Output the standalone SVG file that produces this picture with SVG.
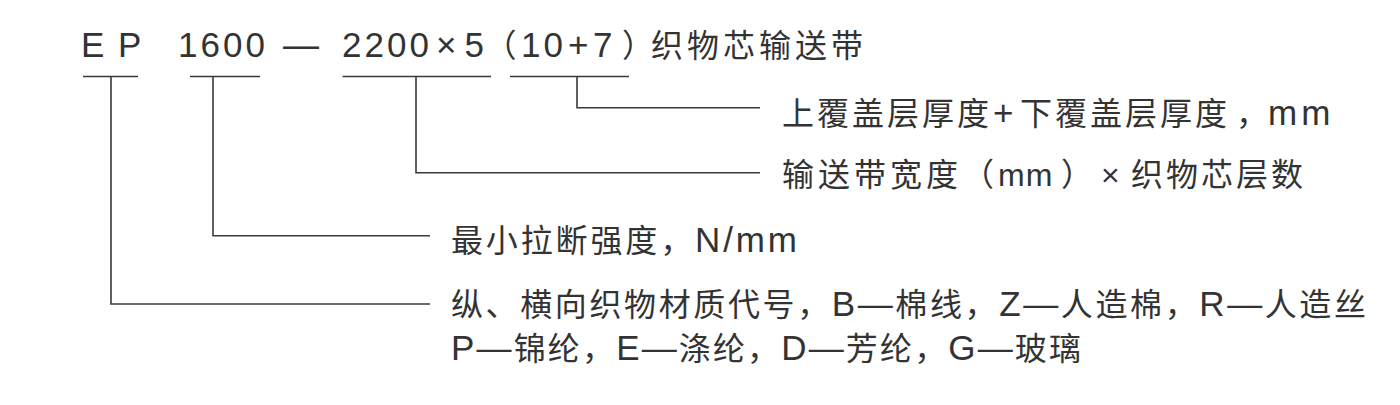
<svg xmlns="http://www.w3.org/2000/svg" width="1400" height="405" viewBox="0 0 1400 405">
<style>
text{font-family:"Liberation Sans","Noto Sans CJK SC",sans-serif;fill:#333;font-size:32px}
.lat{font-size:35px}
.cjk{font-family:"Noto Sans CJK SC",sans-serif;font-size:32px}
.ln{fill:none;stroke:#3a3a3a;stroke-width:1.6}
</style>
<rect width="1400" height="405" fill="#fff"/>
<g id="code">
<text class="lat" x="81" y="57">E</text>
<text class="lat" x="118" y="57">P</text>
<text class="lat" x="178" y="57" letter-spacing="3">1600</text>
<text class="lat" x="283" y="57" style="font-size:36px">—</text>
<text class="lat" x="342" y="57" letter-spacing="3">2200</text>
<text class="lat" x="436" y="57">×</text>
<text class="lat" x="464.5" y="57">5</text>
<text class="cjk" x="484.5" y="57">（</text>
<text class="lat" x="521" y="57" letter-spacing="3">10</text>
<text class="lat" x="568" y="57">+</text>
<text class="lat" x="593" y="57">7</text>
<text class="cjk" x="622" y="57">）<tspan x="651" letter-spacing="4">织物芯输送带</tspan></text>
</g>
<g id="label-cover">
<text x="782" y="125"><tspan letter-spacing="3">上覆盖层厚度</tspan><tspan class="lat" x="993">+</tspan><tspan x="1020" letter-spacing="3">下覆盖层厚度</tspan><tspan x="1236">，</tspan><tspan class="lat" x="1268" letter-spacing="4">mm</tspan></text>
</g>
<g id="label-width">
<text x="782" y="186"><tspan letter-spacing="4">输送带宽度</tspan><tspan x="962">（</tspan><tspan x="998" letter-spacing="1">mm</tspan><tspan x="1061">）</tspan><tspan x="1101">×</tspan><tspan x="1131" letter-spacing="3">织物芯层数</tspan></text>
</g>
<g id="label-strength">
<text x="451" y="252" textLength="346" lengthAdjust="spacing">最小拉断强度，<tspan class="lat">N/mm</tspan></text>
</g>
<g id="label-material">
<text x="451" y="316" textLength="915" lengthAdjust="spacing">纵、横向织物材质代号，<tspan class="lat">B—</tspan>棉线，<tspan class="lat">Z—</tspan>人造棉，<tspan class="lat">R—</tspan>人造丝</text>
<text x="451" y="360" textLength="630" lengthAdjust="spacing"><tspan class="lat">P—</tspan>锦纶，<tspan class="lat">E—</tspan>涤纶，<tspan class="lat">D—</tspan>芳纶，<tspan class="lat">G—</tspan>玻璃</text>
</g>
<g id="connectors">
<path class="ln" d="M83 76.5H138M111 76.5V304H430"/>
<path class="ln" d="M190 76.5H260M213 76.5V235.7H430"/>
<path class="ln" d="M342.5 76.5H491M416 76.5V172.7H760"/>
<path class="ln" d="M510 76.5H629M577 76.5V107.7H760"/>
</g>
</svg>
